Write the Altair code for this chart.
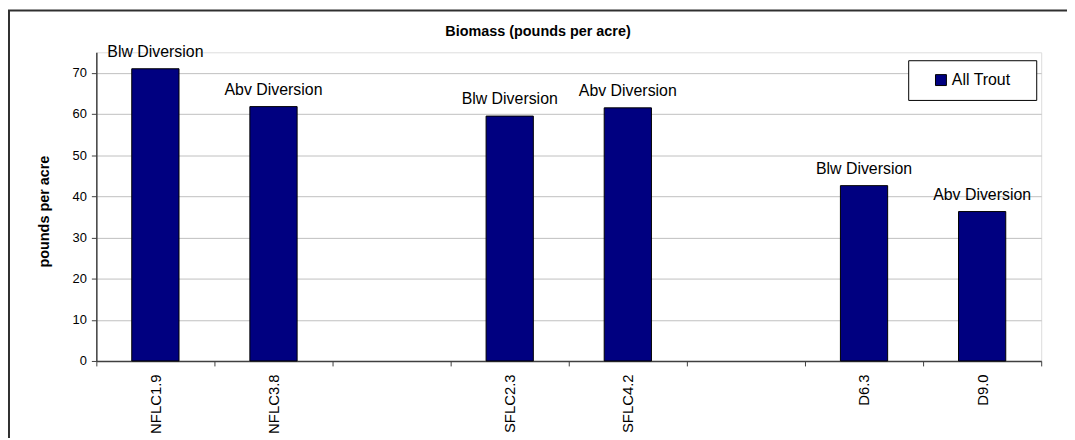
import altair as alt
import pandas as pd

# ---- data ----
categories = ["NFLC1.9", "NFLC3.8", " ", "SFLC2.3", "SFLC4.2", "  ", "D6.3", "D9.0"]
biomass = [71.0, 61.8, None, 59.5, 61.5, None, 42.6, 36.3]
site_labels = ["Blw Diversion", "Abv Diversion", "", "Blw Diversion", "Abv Diversion", "",
               "Blw Diversion", "Abv Diversion"]
series_name = "All Trout"
y_ticks = [0, 10, 20, 30, 40, 50, 60, 70]
chart_title = ["Biomass (pounds per acre)"]

df = pd.DataFrame({"site": categories, "value": biomass, "label": site_labels})
df["series"] = series_name

FONT = "Liberation Sans"
W, H = 952, 311
PAD_L, PAD_T = 89, 43
TOTAL_W, TOTAL_H = 1067, 430

xscale = alt.Scale(domain=categories, paddingInner=0, paddingOuter=0)
yscale = alt.Scale(domain=[0, 75], nice=False)

base = alt.Chart(df)

legend_pad = "\u00a0" * 3 + "\u200b"

bars = base.mark_bar(width=alt.RelativeBandSize(0.4), stroke="black", strokeWidth=1).encode(
    x=alt.X("site:N", scale=xscale, sort=categories,
            axis=alt.Axis(title=None, labelAngle=-90, labelFontSize=15, labelFont=FONT,
                          labelColor="black", tickBand="extent", tickSize=5, tickColor="#404040",
                          domainColor="#404040", domainWidth=1.5, labelPadding=8, grid=False)),
    y=alt.Y("value:Q", scale=yscale,
            axis=alt.Axis(title="pounds per acre", values=y_ticks, labelFontSize=13, labelFont=FONT,
                          labelColor="black", tickSize=5, tickColor="#404040", domainColor="#404040",
                          domainWidth=1.5, labelPadding=5, gridColor="#c0c0c0", gridWidth=1,
                          titleFont=FONT, titleFontSize=14.5, titleFontWeight="bold",
                          titleColor="black", titleX=-45, titleY=160)),
    color=alt.Color("series:N", scale=alt.Scale(domain=[series_name], range=["#000080"]),
                    legend=alt.Legend(title=None, orient="none", legendX=818, legendY=8,
                                      symbolType="square", symbolSize=121,
                                      symbolStrokeColor="black", symbolStrokeWidth=1,
                                      labelFont=FONT, labelFontSize=16, labelColor="black",
                                      labelOffset=3, strokeColor="black", fillColor="white",
                                      padding=12, symbolOffset=13,
                                      labelExpr="datum.label + '" + legend_pad + "'")),
)

texts = base.transform_filter("datum.label != ''").mark_text(
    baseline="alphabetic", dy=-12, fontSize=16, font=FONT, color="black"
).encode(
    x=alt.X("site:N", scale=xscale, sort=categories),
    y=alt.Y("value:Q", scale=yscale),
    text="label:N",
)

title = alt.Chart(pd.DataFrame({"t": chart_title})).mark_text(
    fontSize=14.5, fontWeight="bold", font=FONT, color="black", baseline="middle"
).encode(x=alt.value(445), y=alt.value(-20), text="t:N")

frame = alt.Chart(pd.DataFrame({"t": chart_title})).mark_rect(
    fill=None, stroke="#303030", strokeWidth=2
).encode(x=alt.value(-PAD_L + 1), x2=alt.value(W + 60), y=alt.value(-PAD_T + 1), y2=alt.value(H + 200))

chart = alt.layer(frame, bars, texts, title).properties(
    width=W, height=H,
    autosize=alt.AutoSizeParams(type="none"),
    padding={"left": PAD_L, "top": PAD_T, "right": TOTAL_W - PAD_L - W, "bottom": TOTAL_H - PAD_T - H},
).configure_view(stroke="#909090", strokeWidth=1).configure(background="white")

chart.save("out.html", embed_options={"renderer": "svg", "actions": False})
